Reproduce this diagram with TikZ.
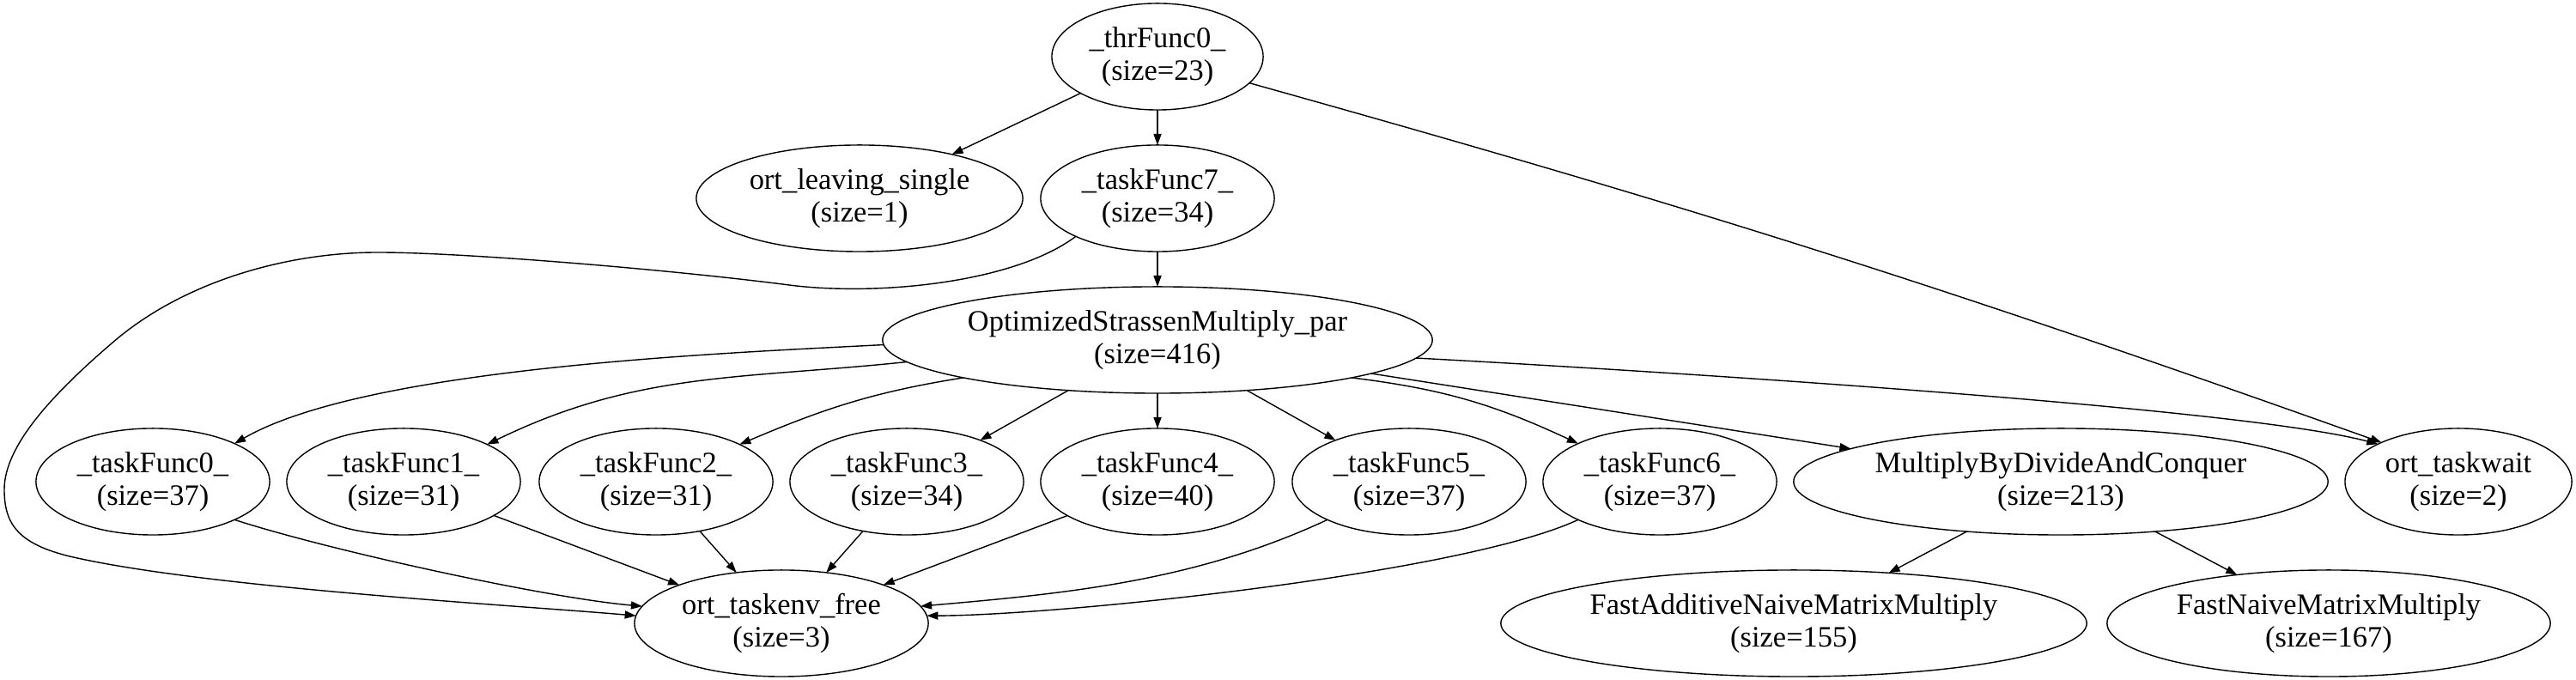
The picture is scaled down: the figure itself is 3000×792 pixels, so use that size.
\documentclass[tikz,border=0pt]{standalone}
\usepackage{fontspec}
\setmainfont{Liberation Serif}
\usetikzlibrary{arrows.meta, shapes.geometric}
\tikzset{
    funcnode/.style={ellipse, draw=black, line width=0.4pt, inner sep=0pt, outer sep=0pt, minimum height=1.24cm, align=center, font=\fontsize{9.8}{10.8}\selectfont},
    taskfunc/.style={funcnode, minimum width=2.72cm},
    callarrow/.style={-{Triangle[length=3.7pt, width=2.6pt]}, line width=0.4pt, draw=black}
}
\begin{document}
\begin{tikzpicture}[x=0.01cm,y=0.01cm]
    \useasboundingbox (0,0) rectangle (3000,792);
    % Top levels
    \node[funcnode, minimum width=2.46cm] (thr0)  at (1348,726) {\_thrFunc0\_\\(size=23)};
    \node[funcnode, minimum width=3.80cm] (ols)   at (1001,561) {ort\_leaving\_single\\(size=1)};
    \node[taskfunc]                       (tf7)   at (1348,561) {\_taskFunc7\_\\(size=34)};
    \node[funcnode, minimum width=6.40cm] (osm)   at (1348,396) {OptimizedStrassenMultiply\_par\\(size=416)};

    % Row of tasks
    \node[taskfunc] (tf0) at (178,231)  {\_taskFunc0\_\\(size=37)};
    \node[taskfunc] (tf1) at (470,231)  {\_taskFunc1\_\\(size=31)};
    \node[taskfunc] (tf2) at (764,231)  {\_taskFunc2\_\\(size=31)};
    \node[taskfunc] (tf3) at (1056,231) {\_taskFunc3\_\\(size=34)};
    \node[taskfunc] (tf4) at (1348,231) {\_taskFunc4\_\\(size=40)};
    \node[taskfunc] (tf5) at (1641,231) {\_taskFunc5\_\\(size=37)};
    \node[taskfunc] (tf6) at (1933,231) {\_taskFunc6\_\\(size=37)};
    \node[funcnode, minimum width=6.22cm] (mbdc)  at (2400,231) {MultiplyByDivideAndConquer\\(size=213)};
    \node[funcnode, minimum width=2.64cm] (twait) at (2863,231) {ort\_taskwait\\(size=2)};

    % Bottom row
    \node[funcnode, minimum width=3.42cm] (tfree) at (910,66)  {ort\_taskenv\_free\\(size=3)};
    \node[funcnode, minimum width=6.82cm] (fanmm) at (2089,66) {FastAdditiveNaiveMatrixMultiply\\(size=155)};
    \node[funcnode, minimum width=5.16cm] (fnmm)  at (2712,66) {FastNaiveMatrixMultiply\\(size=167)};

    % Calls from _thrFunc0_
    \draw[callarrow] (thr0) -- (ols);
    \draw[callarrow] (thr0) -- (tf7);
    \draw[callarrow] (thr0.-16) to[bend left=2] (twait.153);

    % Calls from _taskFunc7_ (long wave round the left side)
    \draw[callarrow] (tf7) -- (osm);
    \draw[callarrow] (tf7.205) .. controls (1180,462) and (1020,447) .. (919,460)
        .. controls (780,478) and (540,498) .. (440,498)
        .. controls (330,498) and (210,462) .. (130,392)
        .. controls (60,332) and (5,272) .. (5,222)
        .. controls (5,182) and (20,157) .. (90,142)
        .. controls (250,107) and (600,87) .. (tfree.177);

    % Calls from OptimizedStrassenMultiply_par
    \draw[callarrow] (osm.181) to[out=183,in=30,looseness=0.6] (tf0.25);
    \draw[callarrow] (osm.185) to[out=186,in=26] (tf1.24);
    \draw[callarrow] (osm.191) to[out=189,in=23] (tf2.24);
    \draw[callarrow] (osm) -- (tf3);
    \draw[callarrow] (osm) -- (tf4);
    \draw[callarrow] (osm) -- (tf5);
    \draw[callarrow] (osm.349) to[out=-7,in=155] (tf6.155);
    \draw[callarrow] (osm) -- (mbdc);
    \draw[callarrow] (osm.356) to[out=-3,in=165,looseness=0.4] (twait.155);

    % Calls from MultiplyByDivideAndConquer
    \draw[callarrow] (mbdc) -- (fanmm);
    \draw[callarrow] (mbdc) -- (fnmm);

    % Tasks freeing their environment
    \draw[callarrow] (tf0.-25) to[out=-18,in=175,looseness=0.6] (tfree.173);
    \draw[callarrow] (tf1) -- (tfree);
    \draw[callarrow] (tf2) -- (tfree);
    \draw[callarrow] (tf3) -- (tfree);
    \draw[callarrow] (tf4) -- (tfree);
    \draw[callarrow] (tf5.205) to[out=205,in=5,looseness=0.9] (tfree.7);
    \draw[callarrow] (tf6.205) to[out=205,in=0,looseness=0.5] (tfree.3);
\end{tikzpicture}
\end{document}
